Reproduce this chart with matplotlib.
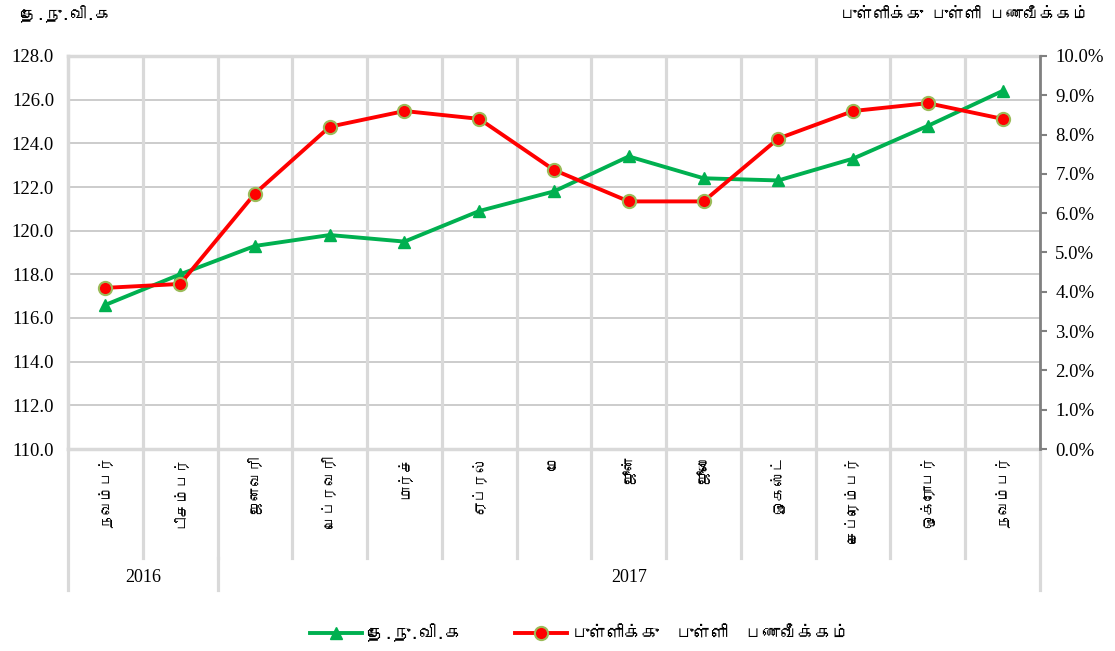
import matplotlib
matplotlib.use('Agg')
import matplotlib.pyplot as plt
from matplotlib import font_manager
from matplotlib.ft2font import FT2Font
from matplotlib.lines import Line2D
import matplotlib.transforms as mtransforms
import numpy as np

# ---------------- data ----------------
months = ['நவம்பர்', 'டிசம்பர்', 'ஜனவரி', 'பெப்ரவரி', 'மார்ச்', 'ஏப்ரல்', 'மே',
          'ஜூன்', 'ஜூலை', 'ஓகஸ்ட்', 'செப்ரெம்பர்', 'ஒக்ரோபர்', 'நவம்பர்']
years = ['2016', '2017']
year_counts = [2, 11]
ccpi = [116.6, 118.0, 119.3, 119.8, 119.5, 120.9, 121.8, 123.4, 122.4, 122.3, 123.3, 124.8, 126.4]
inflation = [4.1, 4.2, 6.5, 8.2, 8.6, 8.4, 7.1, 6.3, 6.3, 7.9, 8.6, 8.8, 8.4]
left_ticks = [110, 112, 114, 116, 118, 120, 122, 124, 126, 128]
right_ticks = [0, 1, 2, 3, 4, 5, 6, 7, 8, 9, 10]
left_title = 'தே.நு.வி.க'
right_title = 'புள்ளிக்கு புள்ளி பணவீக்கம்'
series_names = ['தே.நு.வி.க', 'புள்ளிக்கு  புள்ளி  பணவீக்கம்']

# ---------------- fonts ----------------
tamil_family = None
for f in font_manager.fontManager.ttflist:
    try:
        ft = FT2Font(f.fname)
        if 0x0BA4 in ft.get_charmap():
            tamil_family = f.name
            break
    except Exception:
        pass
serif = ['Liberation Serif', 'DejaVu Serif']
tamil = ([tamil_family] if tamil_family else []) + serif
plt.rcParams['font.family'] = serif

W, H = 1115, 651
fig = plt.figure(figsize=(W / 100, H / 100), dpi=100)
L, R, T, B = 68, 1040, 56, 449
ax = fig.add_axes([L / W, 1 - B / H, (R - L) / W, (B - T) / H])
ax2 = ax.twinx()

n = len(months)
x = np.arange(n)
ax.set_xlim(-0.5, n - 0.5)
ax.set_ylim(110, 128)
ax2.set_ylim(0, 10)

# grid
for yv in left_ticks[1:-1]:
    ax.axhline(yv, color='#bfbfbf', lw=1.1, zorder=0)
for k in range(n - 1):
    ax.axvline(k + 0.5, color='#d9d9d9', lw=2.3, zorder=0)

for s in ['left', 'top', 'bottom']:
    ax.spines[s].set_color('#d9d9d9')
    ax.spines[s].set_linewidth(2.5)
ax.spines['right'].set_visible(False)
for s in ['left', 'top', 'bottom']:
    ax2.spines[s].set_visible(False)
ax2.spines['right'].set_color('#808080')
ax2.spines['right'].set_linewidth(2)

ax.set_yticks(left_ticks)
ax.set_yticklabels([f'{v:.1f}' for v in left_ticks], fontsize=13.5)
ax.tick_params(axis='y', length=0, pad=10)
ax.set_xticks([])
ax2.set_yticks(right_ticks)
ax2.set_yticklabels([f'{v:.1f}%' for v in right_ticks], fontsize=13.5)
ax2.tick_params(axis='y', length=5, width=1.5, color='#808080', pad=6, direction='out')

# series
ax.plot(x, ccpi, color='#00b050', lw=2.8, marker='^', markersize=8,
        markerfacecolor='#00b050', markeredgecolor='#00b050', zorder=3)
ax2.plot(x, inflation, color='#ff0000', lw=2.8, marker='o', markersize=9.5,
         markerfacecolor='#ff0000', markeredgecolor='#9bbb59', markeredgewidth=1.5, zorder=4)

# category area below axes
trans = mtransforms.blended_transform_factory(ax.transData, ax.transAxes)
ah = B - T
month_bot = -(558 - B) / ah
year_bot = -(590 - B) / ah
for k in range(n - 1):
    ax.plot([k + 0.5, k + 0.5], [0, month_bot], transform=trans, color='#d9d9d9',
            lw=2.3, clip_on=False)
for xe in [-0.5, n - 0.5]:
    ax.plot([xe, xe], [0, year_bot], transform=trans, color='#d9d9d9', lw=2.3, clip_on=False)
start = 0
for yr, cnt in zip(years, year_counts):
    end = start + cnt
    if end < n:
        ax.plot([end - 0.5, end - 0.5], [month_bot, year_bot], transform=trans,
                color='#d9d9d9', lw=2.3, clip_on=False)
    ax.text((start + end - 1) / 2, -(577 - B) / ah, yr, transform=trans, ha='center',
            va='center', fontsize=13)
    start = end
for k, m in enumerate(months):
    ax.text(k, -(455 - B) / ah, m, transform=trans, rotation=90, ha='center', va='top',
            fontsize=10.5, family=tamil)

# titles
fig.text(20 / W, 1 - 14 / H, left_title, ha='left', va='center', fontsize=12,
         fontweight='bold', family=tamil)
fig.text(1090 / W, 1 - 14 / H, right_title, ha='right', va='center', fontsize=12,
         fontweight='bold', family=tamil)

# legend
handles = [Line2D([], [], color='#00b050', lw=2.8, marker='^', markersize=8),
           Line2D([], [], color='#ff0000', lw=2.8, marker='o', markersize=9.5,
                  markeredgecolor='#9bbb59', markeredgewidth=1.5)]
fig.legend(handles, series_names, loc='center', bbox_to_anchor=(0.52, 1 - 633 / H),
           ncol=2, frameon=False, handlelength=3.0, columnspacing=3.0, handletextpad=0.3,
           prop={'family': tamil, 'size': 12.5})

fig.savefig('out.png', dpi=100)
